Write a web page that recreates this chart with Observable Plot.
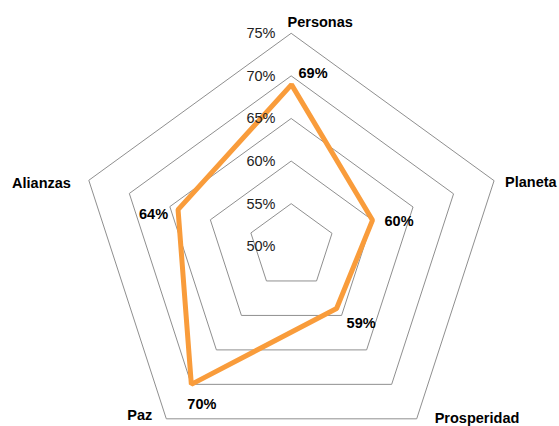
<!DOCTYPE html>
<html>
<head>
<meta charset="utf-8">
<script src="https://cdn.jsdelivr.net/npm/d3@7"></script>
<script src="https://cdn.jsdelivr.net/npm/@observablehq/plot@0.6"></script>
<style>
  html, body { margin: 0; padding: 0; background: #fff; }
  #chart svg { display: block; }
</style>
</head>
<body>
<div id="chart"></div>
<script>
// ---- data ----
const axisNames = ["Personas", "Planeta", "Prosperidad", "Paz", "Alianzas"];
const seriesValues = [69, 60, 59, 70, 64];
const valueLabels = ["69%", "60%", "59%", "70%", "64%"];
const ringLevels = [55, 60, 65, 70, 75];
const tickLevels = [50, 55, 60, 65, 70, 75];
const tickLabels = ["50%", "55%", "60%", "65%", "70%", "75%"];

// ---- geometry helpers (radial offset from the 50% centre) ----
const base = 50;
const n = axisNames.length;
const angle = i => Math.PI / 2 - i * 2 * Math.PI / n;
const px = (v, i) => (v - base) * Math.cos(angle(i));
const py = (v, i) => (v - base) * Math.sin(angle(i));

const grid = ringLevels.flatMap(level =>
  axisNames.map((name, i) => ({ring: level, x: px(level, i), y: py(level, i)})));
const series = axisNames.map((name, i) => ({name, x: px(seriesValues[i], i), y: py(seriesValues[i], i), label: valueLabels[i]}));
const outer = axisNames.map((name, i) => ({name, x: px(75, i), y: py(75, i)}));
const ticks = tickLevels.map((t, k) => ({label: tickLabels[k], x: 0, y: t - base}));

// label placement (pixels)
const axisLabelStyle = [
  {anchor: "start", dx: -4, dy: -11},
  {anchor: "start", dx: 11, dy: 2},
  {anchor: "start", dx: 18, dy: 0},
  {anchor: "end", dx: -14, dy: -3},
  {anchor: "end", dx: -18, dy: 3}
];
const valueLabelStyle = [
  {anchor: "start", dx: 7, dy: -11},
  {anchor: "start", dx: 12, dy: 1},
  {anchor: "start", dx: 10, dy: 15},
  {anchor: "start", dx: -4, dy: 20},
  {anchor: "end", dx: -10, dy: 5}
];

const pxPerUnit = 213 / 25;
const cx = 291, cy = 246, W = 559, H = 426;

const marks = [
  Plot.line(grid, {x: "x", y: "y", z: "ring", curve: "linear-closed", stroke: "#8f8f8f", strokeWidth: 1}),
  Plot.line(series, {x: "x", y: "y", curve: "linear-closed", stroke: "#F99C3B", strokeWidth: 5, strokeLinejoin: "miter"}),
  Plot.text(ticks, {x: "x", y: "y", text: "label", textAnchor: "end", dx: -16, fontSize: 14.5, fill: "#222"}),
];
axisNames.forEach((name, i) => {
  const s = axisLabelStyle[i];
  marks.push(Plot.text([outer[i]], {x: "x", y: "y", text: "name", textAnchor: s.anchor, dx: s.dx, dy: s.dy, fontSize: 14.5, fontWeight: "bold", fill: "#000"}));
  const v = valueLabelStyle[i];
  marks.push(Plot.text([series[i]], {x: "x", y: "y", text: "label", textAnchor: v.anchor, dx: v.dx, dy: v.dy, fontSize: 14.5, fontWeight: "bold", fill: "#000"}));
});

const chart = Plot.plot({
  width: W,
  height: H,
  margin: 0,
  style: {fontFamily: "'Liberation Sans', Arial, sans-serif", background: "#fff"},
  x: {domain: [-cx / pxPerUnit, (W - cx) / pxPerUnit], axis: null},
  y: {domain: [-(H - cy) / pxPerUnit, cy / pxPerUnit], axis: null},
  marks
});
document.getElementById("chart").appendChild(chart);
</script>
</body>
</html>
